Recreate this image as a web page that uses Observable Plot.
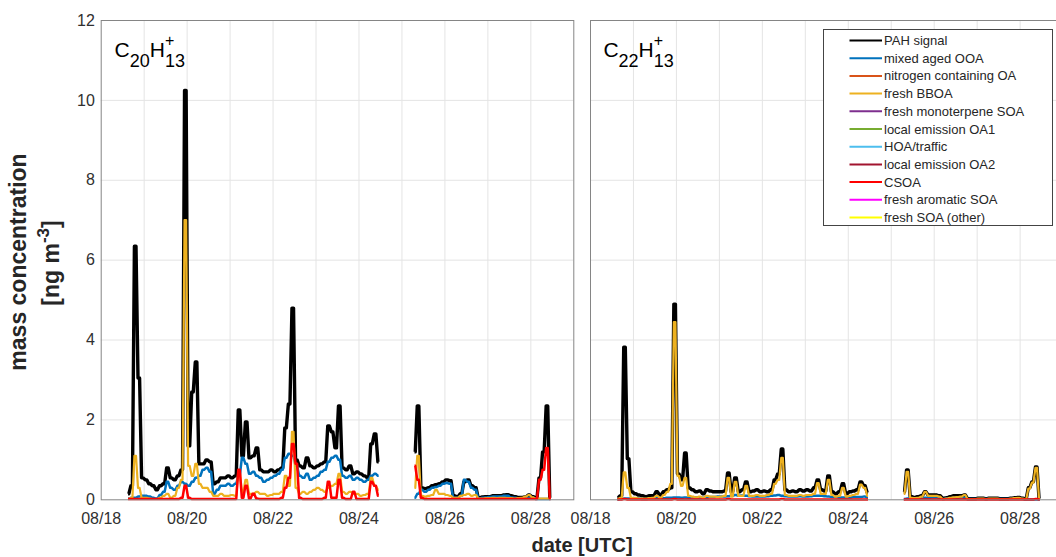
<!DOCTYPE html>
<html><head><meta charset="utf-8">
<script src="https://cdn.jsdelivr.net/npm/d3@7"></script>
<script src="https://cdn.jsdelivr.net/npm/@observablehq/plot@0.6"></script>
<style>
html,body{margin:0;padding:0;background:#fff;overflow:hidden;width:1056px;height:557px;}
#wrap{position:relative;width:1056px;height:557px;overflow:hidden;font-family:"Liberation Sans",Arial,Helvetica,sans-serif;}
#wrap svg{position:absolute;top:0;max-width:none;}
</style></head><body><div id="wrap"></div>
<script>
// ---------------- data ----------------
const SERIES_NAMES = ["PAH signal","mixed aged OOA","nitrogen containing OA","fresh BBOA","fresh monoterpene SOA","local emission OA1","HOA/traffic","local emission OA2","CSOA","fresh aromatic SOA","fresh SOA (other)"];
const SERIES_COLORS = ["#000000","#0072BD","#D95319","#EDB120","#7E2F8E","#77AC30","#4DBEEE","#A2142F","#FF0000","#FF00FF","#FFFF00"];
const PANEL_IONS = [["20","13"],["22","13"]];
const X_TICK_LABELS = ["08/18","08/20","08/22","08/24","08/26","08/28"];
const Y_TICKS = [0,2,4,6,8,10,12];
const Y_TITLE = ["mass concentration","[ng m","-3","]"];
const X_TITLE = "date [UTC]";
// hours after 08/18 00:00 UTC of first sample in each segment; 2-hour sampling
const SEG1_START_H = 15, SEG2_START_H = 175, STEP_H = 2;

// C20H13+ panel
const PAH_L1 = [
0.15,0.35,6.35,3.05,0.55,0.50,0.40,0.35,0.25,0.35,
0.40,0.80,0.55,0.50,0.60,0.75,10.25,1.35,2.70,3.45,
0.90,0.90,1.00,0.95,0.40,0.45,0.55,0.55,0.60,0.55,
0.60,2.25,1.10,1.95,1.05,1.10,1.30,0.75,0.70,0.70,
0.75,0.70,0.75,0.80,1.80,2.40,4.80,1.00,0.85,0.80,
1.05,0.85,0.80,0.85,0.90,0.95,1.85,1.70,1.30,2.35,
0.80,0.75,0.85,0.65,0.70,0.65,0.60,0.55,1.40,1.65,
0.95];
const OOA_L1 = [
0.03,0.05,0.05,0.08,0.10,0.10,0.08,0.05,0.03,0.12,
0.20,0.45,0.30,0.25,0.35,0.45,0.40,0.35,0.45,0.55,
0.60,0.75,0.80,0.70,0.15,0.25,0.35,0.35,0.40,0.35,
0.40,0.60,1.05,0.90,0.65,0.70,0.60,0.55,0.45,0.50,
0.55,0.60,0.65,0.75,1.05,1.15,1.10,0.85,0.60,0.55,
0.65,0.50,0.55,0.60,0.70,0.75,0.95,1.05,1.10,1.00,
0.60,0.55,0.60,0.50,0.55,0.50,0.45,0.50,0.60,0.65,
0.60];
const BBOA_L1 = [
0.02,0.05,1.10,0.30,0.05,0.05,0.03,0.02,0.02,0.05,
0.10,0.15,0.05,0.10,0.30,0.50,7.00,0.85,0.60,0.90,
0.40,0.30,0.30,0.20,0.10,0.10,0.15,0.10,0.10,0.12,
0.10,0.70,0.20,0.50,0.15,0.15,0.20,0.15,0.15,0.10,
0.12,0.15,0.15,0.20,0.60,0.35,1.70,0.30,0.15,0.20,
0.15,0.20,0.25,0.30,0.25,0.20,0.30,0.35,0.40,0.65,
0.20,0.15,0.20,0.15,0.15,0.10,0.12,0.15,0.55,0.35,
0.25];
const CSOA_L1 = [
0.02,0.02,0.02,0.02,0.02,0.02,0.02,0.02,0.02,0.02,
0.02,0.02,0.02,0.02,0.02,0.05,0.35,0.05,0.02,0.02,
0.02,0.02,0.02,0.02,0.02,0.02,0.02,0.02,0.02,0.02,
0.02,0.75,0.05,0.35,0.03,0.15,0.03,0.02,0.02,0.02,
0.02,0.02,0.02,0.05,0.30,0.55,1.40,0.90,0.05,0.02,
0.02,0.02,0.02,0.02,0.02,0.05,0.45,0.05,0.05,0.50,
0.05,0.02,0.02,0.20,0.02,0.02,0.02,0.02,0.45,0.35,
0.10];
const PAH_L2 = [
1.20,2.35,0.30,0.28,0.30,0.35,0.38,0.40,0.45,0.50,
0.48,0.10,0.08,0.15,0.45,0.50,0.35,0.30,0.05,0.07,
0.08,0.08,0.10,0.10,0.10,0.12,0.13,0.10,0.08,0.06,
0.06,0.07,0.12,0.08,0.04,0.55,1.20,2.35,0.05];
const OOA_L2 = [
0.05,0.15,0.25,0.20,0.25,0.30,0.32,0.35,0.40,0.42,
0.40,0.05,0.05,0.10,0.50,0.45,0.30,0.25,0.03,0.05,
0.06,0.07,0.08,0.08,0.08,0.10,0.10,0.06,0.05,0.04,
0.04,0.04,0.05,0.05,0.02,0.02,0.02,0.02,0.02];
const BBOA_L2 = [
0.30,1.10,0.10,0.08,0.10,0.12,0.25,0.15,0.15,0.12,
0.10,0.05,0.05,0.10,0.12,0.15,0.10,0.12,0.03,0.03,
0.04,0.04,0.05,0.04,0.05,0.05,0.04,0.04,0.03,0.04,
0.05,0.08,0.12,0.06,0.03,0.03,0.03,0.03,0.02];
const CSOA_L2 = [
0.85,0.50,0.05,0.02,0.02,0.02,0.02,0.02,0.02,0.02,
0.02,0.02,0.02,0.02,0.02,0.02,0.02,0.02,0.02,0.02,
0.02,0.02,0.02,0.02,0.02,0.02,0.02,0.02,0.02,0.02,
0.02,0.02,0.02,0.02,0.02,0.50,0.75,1.30,0.02];

// C22H13+ panel
const PAH_R1 = [
0.05,0.10,3.82,1.03,0.20,0.15,0.12,0.10,0.08,0.10,
0.10,0.20,0.12,0.20,0.25,0.30,4.90,0.65,0.50,1.17,
0.30,0.25,0.20,0.22,0.15,0.25,0.22,0.20,0.20,0.20,
0.22,0.67,0.20,0.55,0.20,0.25,0.45,0.20,0.22,0.25,
0.20,0.22,0.20,0.25,0.50,0.65,1.27,0.25,0.20,0.22,
0.20,0.25,0.22,0.25,0.22,0.30,0.50,0.25,0.22,0.60,
0.20,0.15,0.20,0.40,0.15,0.20,0.22,0.25,0.45,0.35,
0.18];
const OOA_R1 = [
0.01,0.02,0.03,0.03,0.04,0.03,0.03,0.02,0.02,0.03,
0.03,0.04,0.03,0.04,0.05,0.05,0.06,0.06,0.05,0.06,
0.05,0.06,0.06,0.06,0.05,0.06,0.07,0.07,0.08,0.08,
0.08,0.09,0.10,0.12,0.10,0.11,0.10,0.09,0.08,0.08,
0.08,0.08,0.09,0.10,0.11,0.12,0.10,0.09,0.08,0.08,
0.08,0.09,0.08,0.08,0.09,0.10,0.10,0.10,0.09,0.08,
0.07,0.07,0.06,0.06,0.06,0.06,0.07,0.07,0.07,0.08,
0.06];
const BBOA_R1 = [
0.02,0.05,0.69,0.30,0.05,0.05,0.03,0.03,0.03,0.04,
0.05,0.10,0.05,0.12,0.20,0.40,4.45,0.60,0.35,0.55,
0.10,0.08,0.06,0.08,0.05,0.10,0.08,0.08,0.07,0.08,
0.10,0.55,0.08,0.45,0.10,0.10,0.35,0.10,0.10,0.12,
0.10,0.10,0.12,0.15,0.40,0.50,1.05,0.12,0.10,0.10,
0.10,0.12,0.10,0.12,0.12,0.15,0.42,0.15,0.15,0.50,
0.12,0.08,0.10,0.30,0.08,0.10,0.12,0.15,0.38,0.30,
0.10];
const CSOA_R1 = [
0.01,0.01,0.02,0.01,0.01,0.01,0.01,0.01,0.01,0.01,
0.01,0.01,0.01,0.01,0.01,0.01,0.02,0.01,0.01,0.01,
0.01,0.01,0.01,0.01,0.01,0.01,0.01,0.01,0.01,0.01,
0.01,0.02,0.01,0.01,0.01,0.01,0.01,0.01,0.01,0.01,
0.01,0.01,0.01,0.01,0.01,0.01,0.02,0.01,0.01,0.01,
0.01,0.01,0.01,0.01,0.01,0.01,0.01,0.01,0.01,0.01,
0.01,0.01,0.01,0.01,0.01,0.01,0.01,0.01,0.01,0.01,
0.01];
const PAH_R2 = [
0.20,0.75,0.08,0.06,0.08,0.10,0.20,0.12,0.12,0.12,
0.10,0.04,0.05,0.08,0.10,0.10,0.10,0.12,0.03,0.03,
0.03,0.04,0.04,0.03,0.04,0.04,0.04,0.03,0.03,0.03,
0.04,0.05,0.06,0.04,0.03,0.30,0.45,0.82,0.03];
const OOA_R2 = [
0.02,0.03,0.03,0.03,0.04,0.04,0.05,0.05,0.06,0.06,
0.05,0.02,0.03,0.04,0.05,0.05,0.06,0.05,0.02,0.02,
0.02,0.02,0.02,0.02,0.02,0.02,0.02,0.02,0.02,0.02,
0.02,0.02,0.02,0.02,0.01,0.01,0.01,0.01,0.01];
const BBOA_R2 = [
0.15,0.70,0.05,0.04,0.05,0.08,0.20,0.10,0.10,0.10,
0.08,0.02,0.03,0.05,0.06,0.07,0.08,0.12,0.02,0.02,
0.02,0.03,0.03,0.02,0.03,0.03,0.03,0.02,0.02,0.02,
0.03,0.04,0.05,0.03,0.02,0.28,0.43,0.80,0.02];
const CSOA_R2 = [
0.01,0.01,0.01,0.01,0.01,0.01,0.01,0.01,0.01,0.01,
0.01,0.01,0.01,0.01,0.01,0.01,0.01,0.01,0.01,0.01,
0.01,0.01,0.01,0.01,0.01,0.01,0.01,0.01,0.01,0.01,
0.01,0.01,0.01,0.01,0.01,0.01,0.01,0.02,0.01];

// ---------------- build tables ----------------
const T0 = Date.UTC(2019, 7, 18);
const HOUR = 3600e3, DAY = 864e5;
function rows(series, seg, startH, values) {
  return values.map((v, i) => ({t: new Date(T0 + (startH + STEP_H * i) * HOUR), v, series, seg}));
}
function panelData(p) {
  return [
    ...rows("PAH signal", 1, SEG1_START_H, p.pah[0]), ...rows("PAH signal", 2, SEG2_START_H, p.pah[1]),
    ...rows("mixed aged OOA", 1, SEG1_START_H, p.ooa[0]), ...rows("mixed aged OOA", 2, SEG2_START_H, p.ooa[1]),
    ...rows("fresh BBOA", 1, SEG1_START_H, p.bboa[0]), ...rows("fresh BBOA", 2, SEG2_START_H, p.bboa[1]),
    ...rows("CSOA", 1, SEG1_START_H, p.csoa[0]), ...rows("CSOA", 2, SEG2_START_H, p.csoa[1])
  ];
}
const leftData = panelData({pah:[PAH_L1,PAH_L2], ooa:[OOA_L1,OOA_L2], bboa:[BBOA_L1,BBOA_L2], csoa:[CSOA_L1,CSOA_L2]});
const rightData = panelData({pah:[PAH_R1,PAH_R2], ooa:[OOA_R1,OOA_R2], bboa:[BBOA_R1,BBOA_R2], csoa:[CSOA_R1,CSOA_R2]});

const color = name => SERIES_COLORS[SERIES_NAMES.indexOf(name)];
const LINE_WIDTH = {"PAH signal": 3.4, "mixed aged OOA": 2.5, "fresh BBOA": 2.2, "CSOA": 2.5};
const DRAW_ORDER = ["PAH signal", "mixed aged OOA", "fresh BBOA", "CSOA"];

// line shape: each sample is held briefly, with steep transitions (sample-and-hold look)
function holdCurve(a) {
  return function(context) {
    let x0, y0, n = 0;
    return {
      areaStart() {}, areaEnd() {},
      lineStart() { n = 0; },
      lineEnd() {},
      point(x, y) {
        x = +x; y = +y;
        if (n === 0) context.moveTo(x, y);
        else {
          const dx = x - x0;
          context.lineTo(x0 + a * dx, y0);
          context.lineTo(x - a * dx, y);
          context.lineTo(x, y);
        }
        x0 = x; y0 = y; n++;
      }
    };
  };
}

const xTicks = X_TICK_LABELS.map(s => { const [m, d] = s.split("/").map(Number); return new Date(Date.UTC(2019, m - 1, d)); });
const xDomain = [new Date(T0), new Date(T0 + 11 * DAY)];
const dayLines = d3.utcDay.range(new Date(T0 + DAY), new Date(T0 + 11 * DAY));

const wrap = document.getElementById("wrap");
const FONT = '"Liberation Sans", Arial, Helvetica, sans-serif';

function makePanel(data, {left, width, marginLeft, marginRight, showY}) {
  const svg = Plot.plot({
    width, height: 557,
    marginLeft, marginRight, marginTop: 20, marginBottom: 57.7,
    style: {background: "transparent", fontFamily: FONT, fontSize: "16px", color: "#303030", overflow: "visible"},
    x: {type: "utc", domain: xDomain, ticks: xTicks, tickFormat: d3.utcFormat("%m/%d"), tickSize: 0, tickPadding: 13, label: null},
    y: {domain: [0, 12], ticks: Y_TICKS, tickSize: 0, tickPadding: 6.4, label: null, axis: showY ? "left" : null},
    marks: [
      Plot.ruleX(dayLines, {stroke: "#e4e4e4", strokeWidth: 1}),
      Plot.ruleY(Y_TICKS.slice(1, -1), {stroke: "#e4e4e4", strokeWidth: 1}),
      ...DRAW_ORDER.map(name => Plot.line(data.filter(d => d.series === name), {
        x: "t", y: "v", z: "seg", stroke: color(name), strokeWidth: LINE_WIDTH[name],
        curve: holdCurve(0.22), strokeLinejoin: "round", strokeLinecap: "butt"
      })),
      Plot.frame({stroke: "#858585", strokeWidth: 1})
    ]
  });
  svg.style.left = left + "px";
  wrap.appendChild(svg);
}

makePanel(leftData, {left: 0, width: 590, marginLeft: 100.7, marginRight: 16.7, showY: true});
makePanel(rightData, {left: 570, width: 503, marginLeft: 20, marginRight: 10.4, showY: false});

// ---------------- overlay: titles, axis labels, legend ----------------
const ov = d3.select(wrap).append("svg").attr("width", 1056).attr("height", 557).style("left", "0px")
  .attr("font-family", FONT);

function ionTitle(x, ion) {
  const t = ov.append("text").attr("x", x).attr("y", 57).attr("font-size", 21).attr("fill", "#000");
  t.append("tspan").text("C");
  t.append("tspan").attr("font-size", 18).attr("dy", 9.5).text(ion[0]);
  t.append("tspan").attr("dy", -9.5).text("H");
  t.append("tspan").attr("font-size", 16).attr("dy", -10.6).text("+");
  t.append("tspan").attr("font-size", 18).attr("dy", 20.1).attr("dx", -9.3).text(ion[1]);
}
ionTitle(114.6, PANEL_IONS[0]);
ionTitle(603.4, PANEL_IONS[1]);

// y title
ov.append("text").attr("transform", "translate(25.5,262) rotate(-90)").attr("text-anchor", "middle")
  .attr("font-size", 23).attr("font-weight", "bold").attr("fill", "#262626").text(Y_TITLE[0]);
const y2 = ov.append("text").attr("transform", "translate(58.5,263) rotate(-90)").attr("text-anchor", "middle")
  .attr("font-size", 23).attr("font-weight", "bold").attr("fill", "#262626");
y2.append("tspan").text(Y_TITLE[1]);
y2.append("tspan").attr("font-size", 17).attr("dy", -10).text(Y_TITLE[2]);
y2.append("tspan").attr("dy", 10).text(Y_TITLE[3]);

// x title
ov.append("text").attr("x", 582).attr("y", 551.5).attr("text-anchor", "middle")
  .attr("font-size", 20).attr("font-weight", "bold").attr("fill", "#262626").text(X_TITLE);

// legend
const lg = ov.append("g");
lg.append("rect").attr("x", 823.5).attr("y", 29.5).attr("width", 229).attr("height", 196)
  .attr("fill", "#fff").attr("stroke", "#444").attr("stroke-width", 1);
SERIES_NAMES.forEach((name, i) => {
  const cy = 40.5 + i * 17.7;
  lg.append("line").attr("x1", 849.5).attr("x2", 882).attr("y1", cy).attr("y2", cy)
    .attr("stroke", SERIES_COLORS[i]).attr("stroke-width", 2);
  lg.append("text").attr("x", 884).attr("y", cy).attr("dy", "0.35em").attr("font-size", 13)
    .attr("fill", "#262626").text(name);
});
</script></body></html>
